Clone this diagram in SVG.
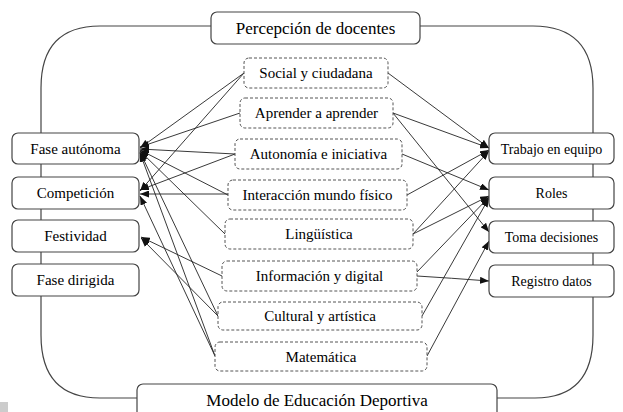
<svg xmlns="http://www.w3.org/2000/svg" width="623" height="412" viewBox="0 0 623 412" font-family="'Liberation Serif', 'DejaVu Serif', serif">
<defs>
<marker id="ah" markerUnits="userSpaceOnUse" markerWidth="9" markerHeight="7" refX="9" refY="3.5" orient="auto">
<path d="M0,0 L9,3.5 L0,7 z" fill="#111"/>
</marker>
<style>
.solid{fill:#fff;stroke:#444;stroke-width:1.2}
.dash{fill:#fff;stroke:#555;stroke-width:1;stroke-dasharray:3,2}
text{font-family:'Liberation Serif','DejaVu Serif',serif;font-size:15px;fill:#000;text-anchor:middle}
.big{font-size:17px}
.sm{font-size:14px}
.loop{fill:none;stroke:#444;stroke-width:1.2}
.c{fill:none;stroke:#222;stroke-width:0.9;marker-end:url(#ah)}
</style>
</defs>
<rect width="623" height="412" fill="#fff"/>
<rect x="0" y="402" width="8" height="10" fill="#ccc"/>
<g id="loop">
<path class="loop" d="M211,26 L100,26 Q41,26 41,88 L41,335 Q41,398 100,398 L137,398"/>
<path class="loop" d="M420,26 L533,26 Q593,26 593,88 L593,335 Q593,398 535,398 L497,398"/>
</g>
<g id="connectors">
<line class="c" x1="244" y1="73" x2="140" y2="148"/>
<line class="c" x1="244" y1="73" x2="140" y2="191"/>
<line class="c" x1="240" y1="113" x2="140" y2="147"/>
<line class="c" x1="235" y1="154" x2="140" y2="149"/>
<line class="c" x1="235" y1="154" x2="140" y2="190"/>
<line class="c" x1="228" y1="195" x2="140" y2="150"/>
<line class="c" x1="228" y1="194" x2="140" y2="194"/>
<line class="c" x1="225" y1="234" x2="140" y2="151"/>
<line class="c" x1="222" y1="276" x2="141" y2="237"/>
<line class="c" x1="218" y1="316" x2="140" y2="152"/>
<line class="c" x1="218" y1="316" x2="141" y2="238"/>
<line class="c" x1="215" y1="356" x2="140" y2="153"/>
<line class="c" x1="215" y1="356" x2="140" y2="196"/>
<line class="c" x1="388" y1="73" x2="489" y2="148"/>
<line class="c" x1="393" y1="113" x2="489" y2="148"/>
<line class="c" x1="393" y1="113" x2="489" y2="232"/>
<line class="c" x1="402" y1="154" x2="489" y2="190"/>
<line class="c" x1="407" y1="195" x2="489" y2="150"/>
<line class="c" x1="413" y1="234" x2="489" y2="151"/>
<line class="c" x1="413" y1="234" x2="489" y2="196"/>
<line class="c" x1="417" y1="272" x2="489" y2="197"/>
<path class="c" d="M417,276 Q450,278 489,281"/>
<line class="c" x1="422" y1="316" x2="489" y2="198"/>
<line class="c" x1="427" y1="356" x2="489" y2="241"/>
</g>
<g id="percepcion"><rect class="solid" x="211" y="12" width="209" height="32" rx="6"/><text class="big" x="315.5" y="34">Percepción de docentes</text></g>
<g id="modelo"><rect class="solid" x="137" y="384" width="360" height="40" rx="6"/><text class="big" x="317" y="406">Modelo de Educación Deportiva</text></g>
<g id="social"><rect class="dash" x="244" y="58" width="144" height="30" rx="5"/><text x="316" y="78">Social y ciudadana</text></g>
<g id="aprender"><rect class="dash" x="240" y="98" width="153" height="30" rx="5"/><text x="316.5" y="118">Aprender a aprender</text></g>
<g id="autonomia"><rect class="dash" x="235" y="139" width="167" height="30" rx="5"/><text x="318.5" y="159">Autonomía e iniciativa</text></g>
<g id="interaccion"><rect class="dash" x="228" y="180" width="179" height="30" rx="5"/><text x="317.5" y="200">Interacción mundo físico</text></g>
<g id="linguistica"><rect class="dash" x="225" y="219" width="188" height="30" rx="5"/><text x="319" y="239">Lingüística</text></g>
<g id="informacion"><rect class="dash" x="222" y="261" width="195" height="30" rx="5"/><text x="319.5" y="281">Información y digital</text></g>
<g id="cultural"><rect class="dash" x="218" y="302" width="204" height="28" rx="5"/><text x="320" y="321">Cultural y artística</text></g>
<g id="matematica"><rect class="dash" x="215" y="342" width="212" height="29" rx="5"/><text x="321" y="361.5">Matemática</text></g>
<g id="fase-autonoma"><rect class="solid" x="12" y="133" width="127" height="31" rx="6"/><text x="75.5" y="153.5">Fase autónoma</text></g>
<g id="competicion"><rect class="solid" x="12" y="177" width="127" height="32" rx="6"/><text x="75.5" y="198">Competición</text></g>
<g id="festividad"><rect class="solid" x="12" y="220" width="127" height="32" rx="6"/><text x="75.5" y="241">Festividad</text></g>
<g id="fase-dirigida"><rect class="solid" x="12" y="264" width="127" height="32" rx="6"/><text x="75.5" y="285">Fase dirigida</text></g>
<g id="trabajo"><rect class="solid" x="489" y="133" width="125" height="31" rx="6"/><text class="sm" x="551.5" y="153.5">Trabajo en equipo</text></g>
<g id="roles"><rect class="solid" x="489" y="177" width="125" height="32" rx="6"/><text class="sm" x="551.5" y="198">Roles</text></g>
<g id="toma"><rect class="solid" x="489" y="221" width="125" height="32" rx="6"/><text class="sm" x="551.5" y="242">Toma decisiones</text></g>
<g id="registro"><rect class="solid" x="489" y="265" width="125" height="32" rx="6"/><text class="sm" x="551.5" y="286">Registro datos</text></g>
</svg>
